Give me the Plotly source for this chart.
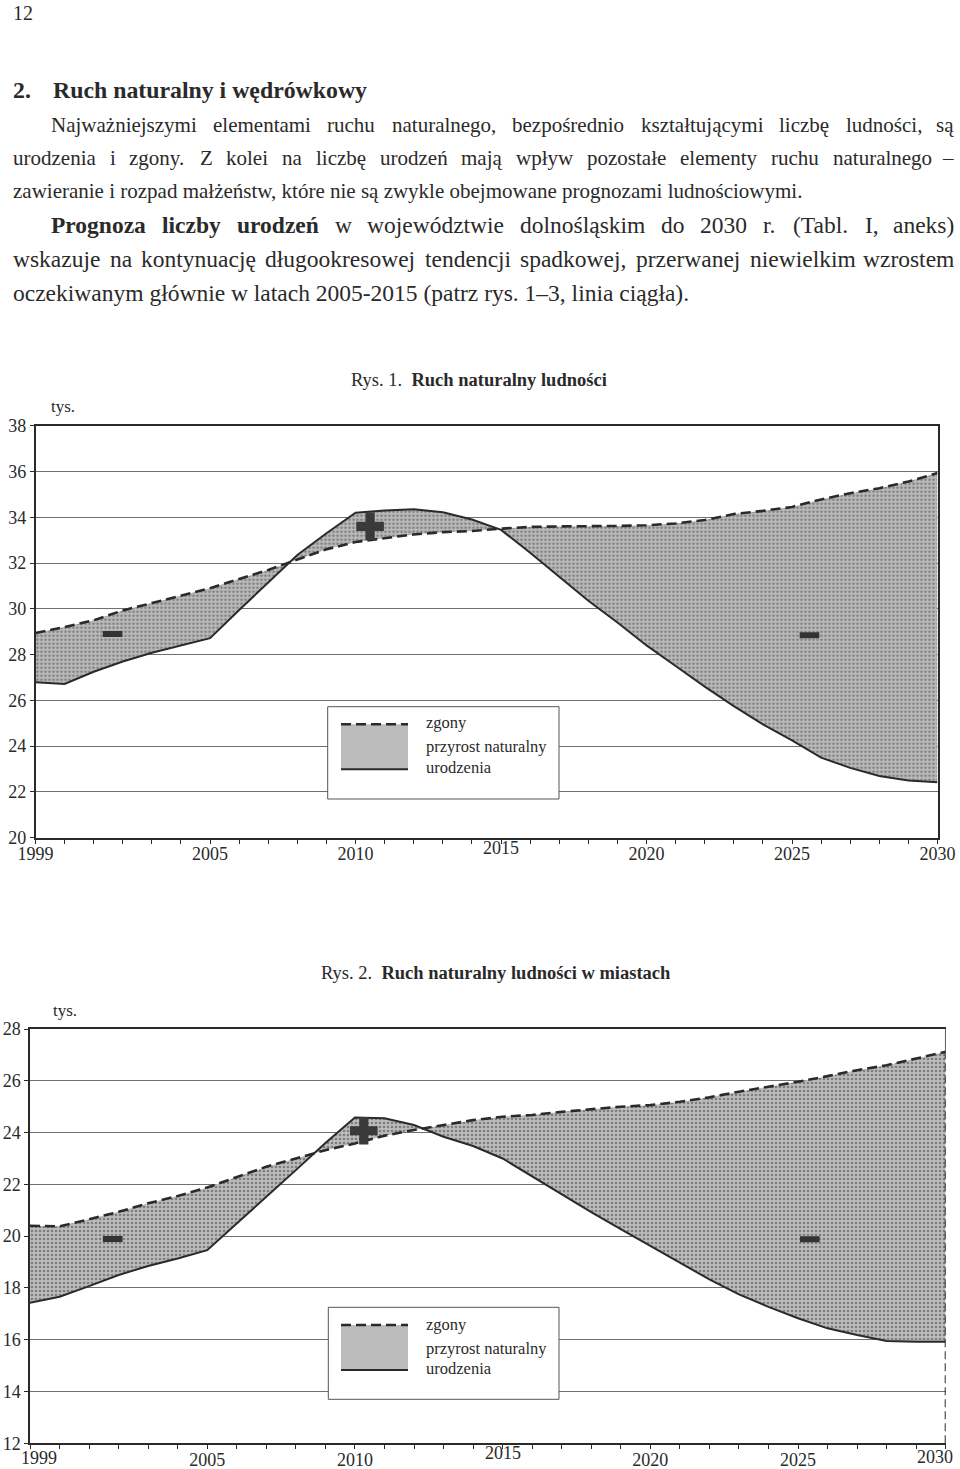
import plotly.graph_objects as go

# ---------------- data ----------------
years = list(range(1999, 2031))

# Rys. 1 – województwo (tys.)
births_1 = [26.79, 26.72, 27.25, 27.70, 28.08, 28.40, 28.72, 29.95, 31.15, 32.35,
            33.30, 34.20, 34.30, 34.35, 34.22, 33.90, 33.45, 32.45, 31.40, 30.35,
            29.40, 28.40, 27.50, 26.60, 25.75, 24.95, 24.25, 23.50, 23.05, 22.70,
            22.50, 22.42]
deaths_1 = [28.94, 29.20, 29.50, 29.93, 30.25, 30.57, 30.90, 31.30, 31.70, 32.15,
            32.60, 32.92, 33.10, 33.25, 33.35, 33.40, 33.50, 33.58, 33.60, 33.60,
            33.62, 33.65, 33.73, 33.88, 34.14, 34.28, 34.45, 34.78, 35.05, 35.27,
            35.56, 35.93]

# Rys. 2 – miasta (tys.)
births_2 = [17.43, 17.66, 18.07, 18.50, 18.85, 19.14, 19.46, 20.48, 21.50, 22.55,
            23.60, 24.58, 24.55, 24.29, 23.84, 23.48, 23.00, 22.30, 21.60, 20.93,
            20.27, 19.63, 18.98, 18.33, 17.75, 17.27, 16.83, 16.44, 16.18, 15.95,
            15.92, 15.92]
deaths_2 = [20.40, 20.38, 20.65, 20.94, 21.27, 21.55, 21.88, 22.28, 22.68, 23.00,
            23.32, 23.58, 23.88, 24.10, 24.29, 24.48, 24.61, 24.68, 24.80, 24.90,
            25.00, 25.06, 25.19, 25.36, 25.58, 25.77, 25.96, 26.18, 26.41, 26.60,
            26.86, 27.12]

# "+" / "-" signs inside the shaded areas (year, value)
plus_1 = (2010.5, 33.6)
minus_1 = [(2001.65, 28.9), (2025.6, 28.85)]
plus_2 = (2010.3, 24.07)
minus_2 = [(2001.8, 19.89), (2025.4, 19.88)]

x_label_years = [1999, 2005, 2010, 2020, 2025, 2030]
raised_label_year = 2015

legend_labels = ["zgony", "przyrost naturalny", "urodzenia"]

title_1 = ("Rys. 1.", "Ruch naturalny ludności")
title_2 = ("Rys. 2.", "Ruch naturalny ludności w miastach")
unit_label = "tys."

page_number = "12"
heading_num = "2."
heading_text = "Ruch naturalny i wędrówkowy"
para_lines = [
    "Najważniejszymi elementami ruchu naturalnego, bezpośrednio kształtującymi liczbę ludności, są",
    "urodzenia i zgony. Z kolei na liczbę urodzeń mają wpływ pozostałe elementy ruchu naturalnego –",
    "zawieranie i rozpad małżeństw, które nie są zwykle obejmowane prognozami ludnościowymi.",
    "Prognoza liczby urodzeń w województwie dolnośląskim do 2030 r. (Tabl. I, aneks)",
    "wskazuje na kontynuację długookresowej tendencji spadkowej, przerwanej niewielkim wzrostem",
    "oczekiwanym głównie w latach 2005-2015 (patrz rys. 1–3, linia ciągła).",
]
bold_words = [0, 0, 0, 3, 0, 0]          # leading bold words per line
justified = [True, True, False, True, True, False]

# ---------------- layout helpers ----------------
W, H = 960, 1469
def PX(x):
    return x / W
def PY(y):
    return 1 - y / H

SERIF = "Liberation Serif"
INK = "#2a2a2a"
FILL_BG = "#bcbcbc"
FILL_FG = "#7e7e7e"

# Times (= Liberation Serif) advance widths, 1/1000 em
TR = {" ": 250, ",": 250, ".": 250, "-": 333, "–": 500, "(": 333, ")": 333, ":": 278,
      "A": 722, "B": 667, "C": 667, "D": 722, "E": 611, "F": 556, "G": 722, "H": 722,
      "I": 333, "J": 389, "K": 722, "L": 611, "M": 889, "N": 722, "O": 722, "P": 556,
      "R": 667, "S": 556, "T": 611, "U": 722, "W": 944, "Z": 611,
      "a": 444, "b": 500, "c": 444, "d": 500, "e": 444, "f": 333, "g": 500, "h": 500,
      "i": 278, "j": 278, "k": 500, "l": 278, "m": 778, "n": 500, "o": 500, "p": 500,
      "r": 333, "s": 389, "t": 278, "u": 500, "w": 722, "y": 500, "z": 444,
      "ą": 444, "ć": 444, "ę": 444, "ł": 278, "ń": 500, "ó": 500, "ś": 389, "ź": 444,
      "ż": 444}
TB = {" ": 250, "P": 611, "a": 500, "b": 556, "c": 444, "d": 556, "e": 444, "g": 500,
      "i": 278, "l": 278, "n": 556, "o": 500, "r": 444, "u": 556, "y": 500, "z": 444,
      "ń": 556}

def tw(s, size, bold=False):
    tab = TB if bold else TR
    return sum(tab.get(ch, TR.get(ch, 500)) for ch in s) * size / 1000.0

fig = go.Figure()

def add_chart(births, deaths, plus, minus, xa, ya):
    fig.add_trace(go.Scatter(x=years, y=deaths, mode="lines", xaxis=xa, yaxis=ya,
                             line=dict(color=INK, width=2.6, dash="10px,5px"),
                             showlegend=False, hoverinfo="skip"))
    fig.add_trace(go.Scatter(x=years, y=births, mode="lines", xaxis=xa, yaxis=ya,
                             fill="tonexty", fillcolor=FILL_BG,
                             fillpattern=dict(shape=".", bgcolor=FILL_BG, fgcolor=FILL_FG,
                                              size=4, solidity=0.35),
                             line=dict(color=INK, width=2),
                             showlegend=False, hoverinfo="skip"))
    fig.add_trace(go.Scatter(x=[plus[0]], y=[plus[1]], mode="markers", xaxis=xa, yaxis=ya,
                             marker=dict(symbol="cross", size=23, color="#3a3a3a",
                                         line=dict(width=0)),
                             showlegend=False, hoverinfo="skip"))
    fig.add_trace(go.Scatter(x=[m[0] for m in minus], y=[m[1] for m in minus],
                             mode="markers", xaxis=xa, yaxis=ya,
                             marker=dict(symbol="line-ew", size=14, color="#333",
                                         line=dict(width=6, color="#333")),
                             showlegend=False, hoverinfo="skip"))

add_chart(births_1, deaths_1, plus_1, minus_1, "x", "y")
add_chart(births_2, deaths_2, plus_2, minus_2, "x2", "y2")

tickvals = years
ticktext_1 = [str(y) if y in x_label_years else "" for y in years]
edge_labels_2 = [1999, 2030]          # drawn separately (offset from the axis ends)
ticktext_2 = [str(y) if (y in x_label_years and y not in edge_labels_2) else ""
              for y in years]

def xaxis_cfg(domain, anchor, ticktext, standoff):
    return dict(domain=domain, range=[1999, 2030], tickvals=tickvals, ticktext=ticktext,
                anchor=anchor, automargin=False, ticklabelstandoff=standoff,
                ticks="outside", ticklen=4, tickcolor=INK, tickwidth=1,
                showline=True, linecolor=INK, linewidth=2, mirror=True,
                showgrid=False, zeroline=False, fixedrange=True,
                tickfont=dict(family=SERIF, size=18, color=INK))

def yaxis_cfg(domain, rng, anchor, mirror=True):
    return dict(domain=domain, range=rng, dtick=2, tick0=0, anchor=anchor,
                automargin=False,
                ticks="outside", ticklen=4, tickcolor=INK,
                showline=True, linecolor=INK, linewidth=1.5, mirror=mirror,
                showgrid=True, gridcolor="#707070", gridwidth=1,
                zeroline=False, fixedrange=True,
                tickfont=dict(family=SERIF, size=18, color=INK))

fig.update_layout(
    template="none",
    width=W, height=H, margin=dict(l=0, r=0, t=0, b=0, pad=0, autoexpand=False),
    paper_bgcolor="white", plot_bgcolor="white", showlegend=False,
    xaxis=xaxis_cfg([PX(35.5), PX(937.5)], "y", ticktext_1, -5),
    yaxis=yaxis_cfg([PY(837.7), PY(425.7)], [20, 38], "x"),
    xaxis2=xaxis_cfg([PX(30), PX(945.7)], "y2", ticktext_2, -5),
    yaxis2=yaxis_cfg([PY(1443.3), PY(1029)], [12, 28], "x2", mirror=False),
)

ann = []
shapes = []

# right border of Rys. 2: thin solid above the last "zgony" point, dashed below it
shapes.append(dict(type="line", xref="x2", yref="y2", x0=years[-1], x1=years[-1],
                   y0=deaths_2[-1], y1=28, line=dict(color=INK, width=1.5), layer="above"))
shapes.append(dict(type="line", xref="x2", yref="y2", x0=years[-1], x1=years[-1],
                   y0=12, y1=deaths_2[-1], line=dict(color=INK, width=2, dash="8px,4px"),
                   layer="above"))

# page text
ann.append(dict(text=page_number, x=PX(11), y=PY(13), xanchor="left", yanchor="middle",
                font=dict(family=SERIF, size=20, color=INK)))
ann.append(dict(text="<b>" + heading_num + "</b>", x=PX(11), y=PY(90), xanchor="left",
                yanchor="middle", font=dict(family=SERIF, size=23.8, color=INK)))
ann.append(dict(text="<b>" + heading_text + "</b>", x=PX(51), y=PY(90), xanchor="left",
                yanchor="middle", font=dict(family=SERIF, size=23.8, color=INK)))

line_x0 = [50, 12, 12, 50, 12, 12]
line_x1 = [955, 955, None, 955, 955, None]
line_y = [125, 158, 191, 225, 259, 293]
line_sz = [21, 21, 21, 23.5, 23.5, 23.5]
for t, x0, x1, ly, sz, nb, just in zip(para_lines, line_x0, line_x1, line_y, line_sz,
                                       bold_words, justified):
    words = t.split(" ")
    bolds = [i < nb for i in range(len(words))]
    if not just:
        ann.append(dict(text=t, x=PX(x0 - 1), y=PY(ly), xanchor="left", yanchor="middle",
                        font=dict(family=SERIF, size=sz, color=INK)))
        continue
    widths = [tw(w, sz, b) for w, b in zip(words, bolds)]
    gap = (x1 - x0 - sum(widths)) / (len(words) - 1)
    cur = x0
    for i, (w, b, wd) in enumerate(zip(words, bolds, widths)):
        txt = "<b>" + w + "</b>" if b else w
        if i == len(words) - 1:
            ann.append(dict(text=txt, x=PX(x1 + 1), y=PY(ly), xanchor="right",
                            yanchor="middle", font=dict(family=SERIF, size=sz, color=INK)))
        else:
            ann.append(dict(text=txt, x=PX(cur - 1), y=PY(ly), xanchor="left",
                            yanchor="middle", font=dict(family=SERIF, size=sz, color=INK)))
        cur += wd + gap

# chart titles
ann.append(dict(text=title_1[0] + "&nbsp;&nbsp;<b>" + title_1[1] + "</b>", x=PX(349), y=PY(380),
                xanchor="left", yanchor="middle", font=dict(family=SERIF, size=18.5, color=INK)))
ann.append(dict(text=title_2[0] + "&nbsp;&nbsp;<b>" + title_2[1] + "</b>", x=PX(319), y=PY(973),
                xanchor="left", yanchor="middle", font=dict(family=SERIF, size=18.5, color=INK)))
ann.append(dict(text=unit_label, x=PX(49), y=PY(407), xanchor="left", yanchor="middle",
                font=dict(family=SERIF, size=17, color=INK)))
ann.append(dict(text=unit_label, x=PX(51), y=PY(1010), xanchor="left", yanchor="middle",
                font=dict(family=SERIF, size=17, color=INK)))

# raised 2015 labels, shifted edge labels of Rys. 2
ann.append(dict(text=str(raised_label_year), x=raised_label_year, xref="x", y=PY(848),
                yref="paper", xanchor="center", yanchor="middle",
                font=dict(family=SERIF, size=18, color=INK)))
ann.append(dict(text=str(raised_label_year), x=raised_label_year, xref="x2", y=PY(1453),
                yref="paper", xanchor="center", yanchor="middle",
                font=dict(family=SERIF, size=18, color=INK)))
ann.append(dict(text=str(edge_labels_2[0]), x=PX(19), y=PY(1458), xanchor="left",
                yanchor="middle", font=dict(family=SERIF, size=18, color=INK)))
ann.append(dict(text=str(edge_labels_2[1]), x=PX(955), y=PY(1457), xanchor="right",
                yanchor="middle", font=dict(family=SERIF, size=18, color=INK)))

# legends (box, swatch, texts)
def add_legend(box, sw, text_y):
    x0, y0, x1, y1 = box
    shapes.append(dict(type="rect", xref="paper", yref="paper", x0=PX(x0), x1=PX(x1),
                       y0=PY(y1), y1=PY(y0), line=dict(color="#555", width=1),
                       fillcolor="white", layer="above"))
    sx0, sy0, sx1, sy1 = sw
    shapes.append(dict(type="rect", xref="paper", yref="paper", x0=PX(sx0), x1=PX(sx1),
                       y0=PY(sy1), y1=PY(sy0), line=dict(width=0),
                       fillcolor=FILL_BG, layer="above"))
    shapes.append(dict(type="line", xref="paper", yref="paper", x0=PX(sx0), x1=PX(sx1),
                       y0=PY(sy0), y1=PY(sy0), line=dict(color=INK, width=2.6, dash="10px,5px"),
                       layer="above"))
    shapes.append(dict(type="line", xref="paper", yref="paper", x0=PX(sx0), x1=PX(sx1),
                       y0=PY(sy1), y1=PY(sy1), line=dict(color=INK, width=2),
                       layer="above"))
    for lab, ty in zip(legend_labels, text_y):
        ann.append(dict(text=lab, x=PX(424), y=PY(ty), xanchor="left", yanchor="middle",
                        font=dict(family=SERIF, size=16.5, color=INK)))

add_legend((327.7, 706.7, 559, 799), (341, 724.3, 408, 769.3), [722, 746, 767.7])
add_legend((328.3, 1307.3, 559, 1399.3), (341, 1325, 408, 1370), [1324, 1348.3, 1368.3])

for a in ann:
    a.setdefault("xref", "paper")
    a.setdefault("yref", "paper")
    a["showarrow"] = False

fig.update_layout(annotations=ann, shapes=shapes)
fig.write_html("out.html", config={"displayModeBar": False},
               post_script="document.body.style.margin='0';")
